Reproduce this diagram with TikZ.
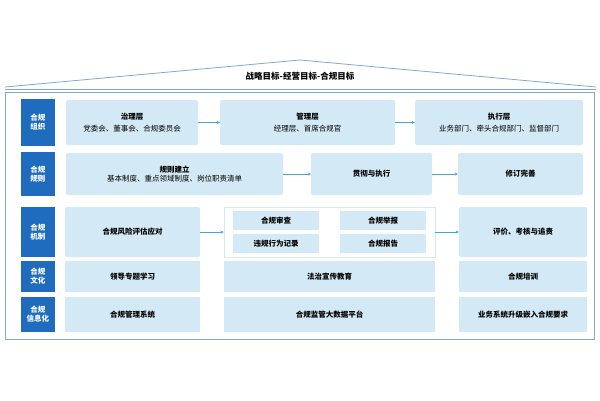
\documentclass[tikz,border=0pt]{standalone}
\usepackage{fontspec}
\setmainfont{Noto Sans CJK SC}
\usetikzlibrary{arrows.meta}
\definecolor{lab}{HTML}{1F6CBF}
\definecolor{box}{HTML}{D3E9F5}
\definecolor{frm}{HTML}{7FA9CF}
\definecolor{arr}{HTML}{3FA9D5}
\tikzset{x=1pt,y=-1pt,
 labbox/.style={fill=lab,text=white,font=\fontsize{7.5}{9}\selectfont\bfseries,align=center,inner sep=0},
 lbox/.style={fill=box,rounded corners=2pt,align=center,inner sep=0,font=\fontsize{7.5}{9.5}\selectfont},
 conn/.style={arr,line width=0.6pt,-{Stealth[length=3pt,width=3pt]}}}
\newcommand{\bx}[6]{\node[#1,minimum width=#4-#2,minimum height=#5-#3] (#6) at ({(#2+#4)/2},{(#3+#5)/2})}
\begin{document}
\begin{tikzpicture}
\useasboundingbox (0,0) rectangle (600,400);
\fill[white] (0,0) rectangle (600,400);
% roof
\draw[frm,line width=0.8pt] (5,87) -- (300,60) -- (596,87);
\draw[frm,line width=0.6pt] (5,89) -- (596,89);
\node[font=\fontsize{8.5}{9}\selectfont\bfseries] (title) at (300,76) {战略目标-经营目标-合规目标};
\draw[frm,line width=0.8pt] (5,92) rectangle (594,339);
% labels
\bx{labbox}{21}{99}{55}{146}{l1} {合规\\组织};
\bx{labbox}{21}{152}{55}{196}{l2} {合规\\规则};
\bx{labbox}{21}{207}{55}{257}{l3} {合规\\机制};
\bx{labbox}{21}{261}{55}{292}{l4} {合规\\文化};
\bx{labbox}{21}{297}{55}{332}{l5} {合规\\信息化};
% row1
\bx{lbox}{66}{100}{198}{145}{a1} {\textbf{治理层}\\[2pt]党委会、董事会、合规委员会};
\bx{lbox}{220}{100}{395}{145}{a2} {\textbf{管理层}\\[2pt]经理层、首席合规官};
\bx{lbox}{415}{100}{583}{145}{a3} {\textbf{执行层}\\[2pt]业务部门、牵头合规部门、监督部门};
\draw[conn] (a1) -- (a2); \draw[conn] (a2) -- (a3);
% row2
\bx{lbox}{66}{153}{283}{195}{b1} {\textbf{规则建立}\\基本制度、重点领域制度、岗位职责清单};
\bx{lbox}{311}{153}{432}{195}{b2} {\textbf{贯彻与执行}};
\bx{lbox}{458}{153}{583}{195}{b3} {\textbf{修订完善}};
\draw[conn] (b1) -- (b2); \draw[conn] (b2) -- (b3);
% row3
\bx{lbox}{65}{207}{200}{257}{c1} {\textbf{合规风险评估应对}};
\bx{draw=box,line width=0.8pt,inner sep=0}{224}{207}{435}{257}{c2} {};
\bx{lbox,rounded corners=0}{233}{211}{319}{230}{c21} {\textbf{合规审查}};
\bx{lbox,rounded corners=0}{233}{234}{319}{253}{c22} {\textbf{违规行为记录}};
\bx{lbox,rounded corners=0}{340}{211}{426}{230}{c23} {\textbf{合规举报}};
\bx{lbox,rounded corners=0}{340}{234}{426}{253}{c24} {\textbf{合规报告}};
\bx{lbox}{459}{207}{587}{257}{c3} {\textbf{评价、考核与追责}};
\draw[conn] (c1) -- (c2); \draw[conn] (c2) -- (c3);
% row4
\bx{lbox,rounded corners=0}{65}{261}{200}{292}{d1} {\textbf{领导专题学习}};
\bx{lbox,rounded corners=0}{224}{261}{435}{292}{d2} {\textbf{法治宣传教育}};
\bx{lbox,rounded corners=0}{459}{261}{587}{292}{d3} {\textbf{合规培训}};
% row5
\bx{lbox,rounded corners=0}{65}{297}{200}{332}{e1} {\textbf{合规管理系统}};
\bx{lbox,rounded corners=0}{224}{297}{435}{332}{e2} {\textbf{合规监管大数据平台}};
\bx{lbox,rounded corners=0}{459}{297}{587}{332}{e3} {\textbf{业务系统升级嵌入合规要求}};
\end{tikzpicture}
\end{document}
